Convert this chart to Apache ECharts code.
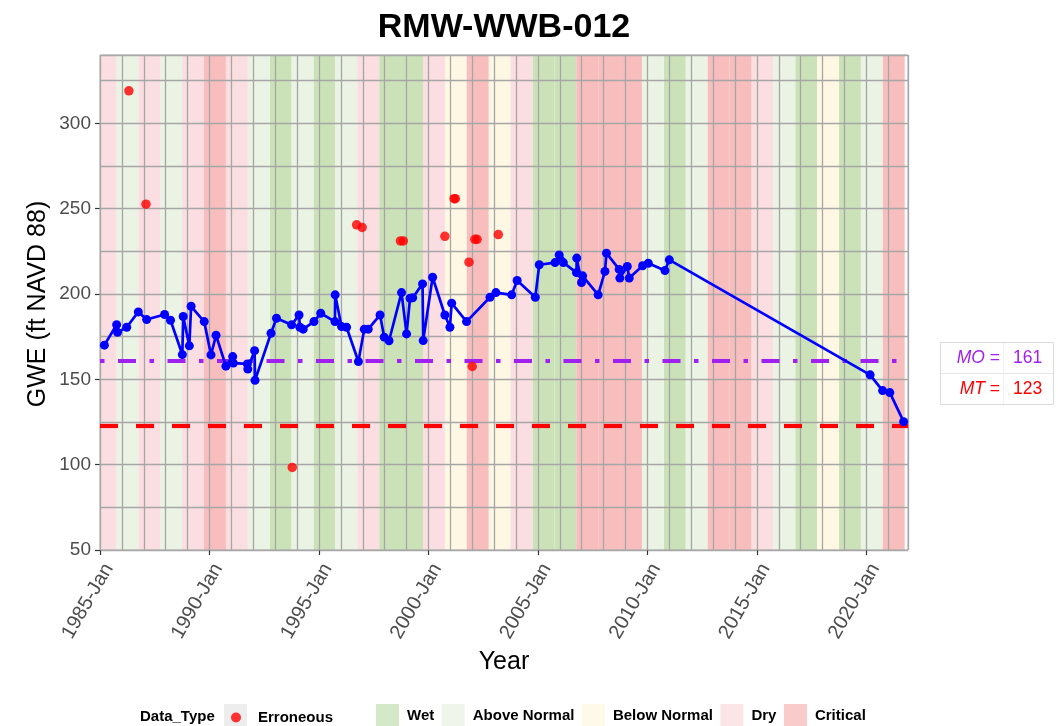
<!DOCTYPE html>
<html>
<head>
<meta charset="utf-8">
<script src="https://cdn.jsdelivr.net/npm/echarts@6/dist/echarts.min.js"></script>
<style>
html,body{margin:0;padding:0;background:#fff;}
#chart{width:1058px;height:726px;}
</style>
</head>
<body>
<div id="chart"></div>
<script>
// ---------------- data ----------------
const chartTitle = 'RMW-WWB-012';
const xTickYears = [1985, 1990, 1995, 2000, 2005, 2010, 2015, 2020];
const yTickValues = [50, 100, 150, 200, 250, 300];

// measured GWE (decimal year, value)
const gweDates = [1985.20,1985.76,1985.80,1986.22,1986.75,1987.13,1987.95,1988.22,1988.76,1988.80,
  1989.08,1989.16,1989.76,1990.07,1990.30,1990.75,1991.06,1991.09,1991.73,1991.75,
  1992.06,1992.08,1992.81,1993.06,1993.75,1994.09,1994.13,1994.28,1994.77,1995.08,
  1995.73,1995.74,1996.03,1996.26,1996.80,1997.07,1997.25,1997.79,1997.98,1998.20,
  1998.77,1999.00,1999.16,1999.28,1999.73,1999.76,2000.19,2000.75,2000.98,2001.06,
  2001.74,2002.81,2003.08,2003.80,2004.05,2004.88,2005.06,2005.78,2005.97,2006.03,
  2006.16,2006.76,2006.77,2006.99,2007.04,2007.75,2008.06,2008.13,2008.71,2008.74,
  2009.08,2009.17,2009.78,2010.04,2010.80,2011.00,2020.17,2020.74,2021.07,2021.70];
const gweValues = [170,182,177.5,180.5,189.5,185,188,184.6,164.5,186.8,
  169.6,192.8,183.8,164.3,175.8,157.7,163.3,159.5,159,156,
  166.8,149.4,177,185.8,181.9,187.7,180.5,179.4,183.8,188.7,
  183.8,199.5,180.9,180.5,160.4,179.4,179.4,187.7,174.7,172.6,
  200.8,176.6,197.5,197.8,205.9,172.7,209.8,187.7,180.5,194.6,
  183.8,198.1,200.8,199.5,207.9,198.1,217.1,218.4,222.9,220,
  218.4,212.5,221,206.7,210.6,199.5,213.2,223.9,214.4,209.3,
  216.1,209.3,216.5,218,213.7,220,152.6,143.4,142.2,125.2];

// erroneous readings
const errDates = [1986.32,1987.10,1993.78,1996.72,1996.97,1998.72,1998.85,2000.75,2001.17,2001.23,2001.85,2002.00,2002.12,2002.22,2003.19];
const errValues = [319,252.6,98.4,240.5,239,231.1,231.1,233.8,255.8,255.8,218.6,157.5,232,232,234.8];

// water year types (water year runs Oct of previous year to Sep)
const waterYears = [1985,1986,1987,1988,1989,1990,1991,1992,1993,1994,1995,1996,1997,1998,1999,2000,2001,2002,2003,2004,2005,2006,2007,2008,2009,2010,2011,2012,2013,2014,2015,2016,2017,2018,2019,2020,2021];
const waterYearTypes = ['Dry','Above Normal','Dry','Above Normal','Dry','Critical','Dry','Above Normal','Wet','Above Normal',
  'Wet','Above Normal','Dry','Wet','Wet','Dry','Below Normal','Critical','Below Normal','Dry',
  'Wet','Wet','Critical','Critical','Critical','Above Normal','Wet','Above Normal','Critical','Critical',
  'Dry','Above Normal','Wet','Below Normal','Wet','Above Normal','Critical'];
const typeNames = ['Wet','Above Normal','Below Normal','Dry','Critical'];
const typeColors = ['#cbe2b9','#ebf3e5','#fef7e3','#fbdee1','#f8bebe'];

const moValue = 161;
const mtValue = 123;

// ---------------- chart ----------------
const X_MIN = 1985, X_MAX = 2021.9;
const Y_MIN = 50, Y_MAX = 340;
const FONT = '"Liberation Sans", Arial, Helvetica, sans-serif';

const bandSeries = typeNames.map((t, i) => ({
  name: t,
  type: 'scatter',
  data: [],
  z: 1,
  itemStyle: { color: typeColors[i] },
  markArea: {
    silent: true,
    itemStyle: { color: typeColors[i], opacity: 1 },
    data: waterYears
      .map((wy, k) => ({ wy, t: waterYearTypes[k] }))
      .filter(o => o.t === t)
      .map(o => [{ xAxis: Math.max(X_MIN, o.wy - 0.25) }, { xAxis: Math.min(X_MAX, o.wy + 0.75) }])
  }
}));

const gridLine = { show: true, lineStyle: { color: '#a6a6a6', width: 1.3 } };
const legendText = { fontWeight: 'bold', fontSize: 15, color: '#000', fontFamily: FONT };

const option = {
  animation: false,
  backgroundColor: '#ffffff',
  textStyle: { fontFamily: FONT },
  grid: { left: 100, right: 150, top: 55, bottom: 176, show: true, z: 4,
          backgroundColor: 'transparent', borderColor: '#a8a8a8', borderWidth: 1 },
  xAxis: [
    {
      type: 'value', min: X_MIN, max: X_MAX, interval: 5, z: 3,
      axisLine: { show: false },
      splitLine: { show: false },
      axisTick: { show: true, customValues: xTickYears, length: 5, lineStyle: { color: '#333', width: 1.2 } },
      axisLabel: { customValues: xTickYears, rotate: 60, margin: 10, fontSize: 20, color: '#4d4d4d',
                   align: 'right', verticalAlign: 'top',
                   fontFamily: FONT, formatter: v => Math.round(v) + '-Jan' }
    },
    {
      type: 'value', min: X_MIN, max: X_MAX, interval: 1, z: 3,
      axisLine: { show: false }, axisTick: { show: false }, axisLabel: { show: false },
      splitLine: gridLine
    }
  ],
  yAxis: [
    {
      type: 'value', min: Y_MIN, max: Y_MAX, interval: 50, z: 3,
      axisLine: { show: false },
      splitLine: { show: false },
      axisTick: { show: true, customValues: yTickValues, length: 5, lineStyle: { color: '#333', width: 1.2 } },
      axisLabel: { customValues: yTickValues, margin: 9, fontSize: 19, color: '#4d4d4d', fontFamily: FONT }
    },
    {
      type: 'value', min: Y_MIN, max: Y_MAX, interval: 25, z: 3,
      axisLine: { show: false }, axisTick: { show: false }, axisLabel: { show: false },
      splitLine: gridLine
    }
  ],
  legend: [
    { data: ['Erroneous'], left: 231, top: 710, padding: 0, orient: 'horizontal', selectedMode: false,
      icon: 'circle', itemWidth: 10, itemHeight: 10, z: 10,
      textStyle: Object.assign({ padding: [0,0,0,12] }, legendText) },
    { data: typeNames, left: 376, top: 704, padding: 0, orient: 'horizontal', selectedMode: false,
      icon: 'rect', itemWidth: 23, itemHeight: 23, itemGap: 7.5, z: 10,
      textStyle: Object.assign({ padding: [0,0,0,3] }, legendText) }
  ],
  graphic: [
    { type: 'text', x: 504, y: 28, z: 10, style: { text: chartTitle, font: 'bold 34px ' + FONT, fill: '#000', align: 'center', verticalAlign: 'middle' } },
    { type: 'text', x: 38, y: 304, rotation: Math.PI / 2, z: 10, style: { text: 'GWE (ft NAVD 88)', font: '25px ' + FONT, fill: '#000', align: 'center', verticalAlign: 'middle' } },
    { type: 'text', x: 504, y: 662, z: 10, style: { text: 'Year', font: '25px ' + FONT, fill: '#000', align: 'center', verticalAlign: 'middle' } },
    { type: 'text', x: 140, y: 717, z: 10, style: { text: 'Data_Type', font: 'bold 15px ' + FONT, fill: '#000', align: 'left', verticalAlign: 'middle' } },
    { type: 'rect', shape: { x: 224, y: 704, width: 23, height: 23 }, z: 1, style: { fill: '#ededed' } },
    // MO / MT table
    { type: 'rect', shape: { x: 940.5, y: 342.5, width: 113, height: 62 }, z: 10, style: { fill: '#fff', stroke: '#dadada', lineWidth: 1 } },
    { type: 'line', shape: { x1: 941, y1: 373.5, x2: 1053, y2: 373.5 }, z: 11, style: { stroke: '#e6e6e6', lineWidth: 1 } },
    { type: 'line', shape: { x1: 1003.5, y1: 343, x2: 1003.5, y2: 404 }, z: 11, style: { stroke: '#f0f0f0', lineWidth: 1 } },
    { type: 'text', x: 1000, y: 358, z: 12, style: { text: '{i|MO} =', align: 'right', verticalAlign: 'middle', fill: '#a020f0', font: '17.5px ' + FONT,
        rich: { i: { fontStyle: 'italic', fontSize: 17.5, fill: '#a020f0', fontFamily: FONT } } } },
    { type: 'text', x: 1013, y: 358, z: 12, style: { text: String(moValue), align: 'left', verticalAlign: 'middle', fill: '#a020f0', font: '17.5px ' + FONT } },
    { type: 'text', x: 1000, y: 389, z: 12, style: { text: '{i|MT} =', align: 'right', verticalAlign: 'middle', fill: '#ff0000', font: '17.5px ' + FONT,
        rich: { i: { fontStyle: 'italic', fontSize: 17.5, fill: '#ff0000', fontFamily: FONT } } } },
    { type: 'text', x: 1013, y: 389, z: 12, style: { text: String(mtValue), align: 'left', verticalAlign: 'middle', fill: '#ff0000', font: '17.5px ' + FONT } }
  ],
  series: [
    ...bandSeries,
    {
      name: 'refs', type: 'line', data: [], z: 4, silent: true,
      markLine: {
        silent: true, symbol: 'none', label: { show: false },
        data: [
          { yAxis: moValue, lineStyle: { color: '#a020f0', width: 4.2, type: [4.5, 13.5, 18, 13.5] } },
          { yAxis: mtValue, lineStyle: { color: '#ff0000', width: 4.2, type: [18, 18] } }
        ]
      }
    },
    {
      name: 'GWE', type: 'line', z: 5,
      data: gweDates.map((d, i) => [d, gweValues[i]]),
      symbol: 'circle', symbolSize: 9, showAllSymbol: true,
      itemStyle: { color: '#0000ff' },
      lineStyle: { color: '#0000ff', width: 2.7 }
    },
    {
      name: 'Erroneous', type: 'scatter', z: 6,
      data: errDates.map((d, i) => [d, errValues[i]]),
      symbol: 'circle', symbolSize: 9.5,
      itemStyle: { color: '#ff0000', opacity: 0.8 }
    }
  ]
};

const chart = echarts.init(document.getElementById('chart'), null, { renderer: 'canvas' });
chart.setOption(option);
</script>
</body>
</html>
